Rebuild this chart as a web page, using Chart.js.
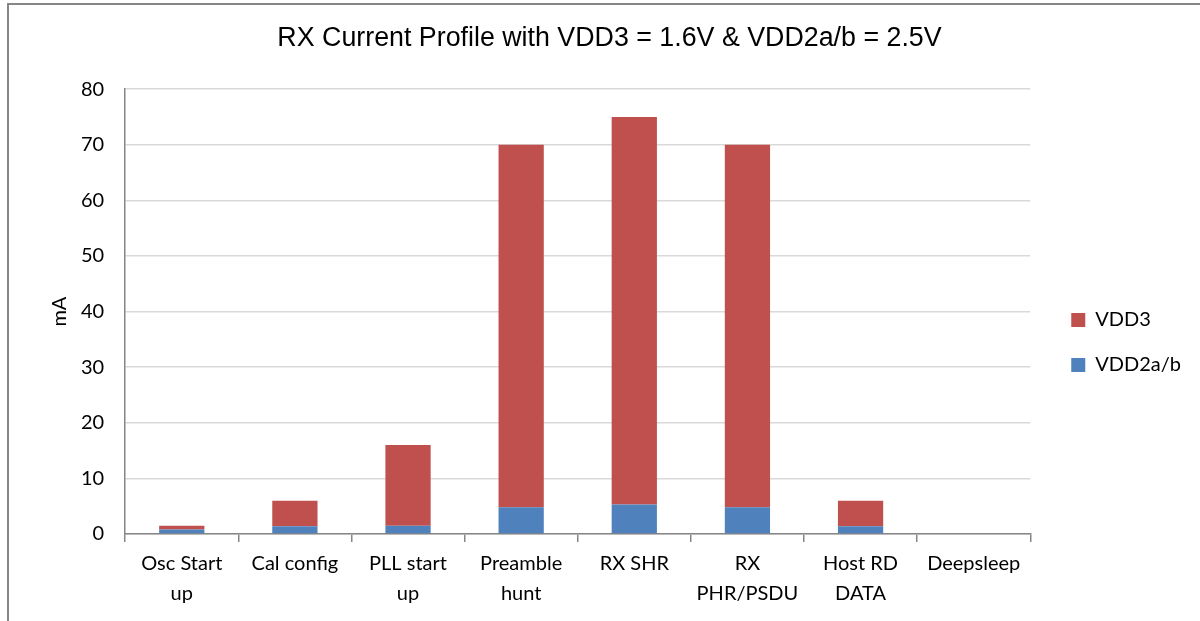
<!DOCTYPE html>
<html>
<head>
<meta charset="utf-8">
<script src="https://cdn.jsdelivr.net/npm/chart.js@4"></script>
<style>
  html, body { margin: 0; padding: 0; background: #fff; }
  #wrap { width: 1200px; height: 621px; }
</style>
</head>
<body>
<div id="wrap"><canvas id="rxChart" width="1200" height="621"></canvas></div>
<script>
// categorías (etiquetas en dos líneas como en el original)
const categories = [
  ["Osc Start", "up"],
  ["Cal config"],
  ["PLL start", "up"],
  ["Preamble", "hunt"],
  ["RX SHR"],
  ["RX", "PHR/PSDU"],
  ["Host RD", "DATA"],
  ["Deepsleep"]
];
const vdd2Values = [0.8, 1.4, 1.5, 4.8, 5.3, 4.8, 1.4, 0];
const vdd3Values = [0.7, 4.6, 14.5, 65.2, 69.7, 65.2, 4.6, 0];
const yTicks = [0, 10, 20, 30, 40, 50, 60, 70, 80];

// marco exterior gris
const outerFrame = {
  id: "outerFrame",
  beforeDraw(chart) {
    const c = chart.ctx;
    c.save();
    c.fillStyle = "#fff";
    c.fillRect(0, 0, chart.width, chart.height);
    c.strokeStyle = "#868686";
    c.lineWidth = 2;
    c.strokeRect(8, 4, 1300, 700);
    c.restore();
  }
};

// mueve un poco la leyenda (derecha y abajo), como en el original
const legendShift = {
  id: "legendShift",
  afterLayout(chart) {
    const lg = chart.legend;
    if (lg) {
      lg.left += 16;
      lg.right += 16;
      lg.top += 27;
      lg.bottom += 27;
    }
  }
};

const ctx = document.getElementById("rxChart").getContext("2d");
const rxChart = new Chart(ctx, {
  type: "bar",
  data: {
    labels: categories,
    datasets: [
      {
        label: "VDD2a/b",
        data: vdd2Values,
        backgroundColor: "#4F81BD",
        borderWidth: 0
      },
      {
        label: "VDD3",
        data: vdd3Values,
        backgroundColor: "#C0504D",
        borderWidth: 0
      }
    ]
  },
  plugins: [outerFrame, legendShift],
  options: {
    responsive: false,
    animation: false,
    layout: { padding: { left: 44, right: 25, top: 15, bottom: 5 } },
    datasets: { bar: { categoryPercentage: 1, barPercentage: 0.4 } },
    scales: {
      x: {
        stacked: true,
        grid: {
          offset: true,
          drawOnChartArea: false,
          color: "#868686",
          tickLength: 8,
          lineWidth: 1.5
        },
        border: { color: "#868686", width: 1.5 },
        ticks: {
          color: "#000",
          font: { family: "Lato", size: 20, lineHeight: 1.5 },
          maxRotation: 0,
          autoSkip: false,
          padding: 7
        }
      },
      y: {
        stacked: true,
        min: 0,
        max: 80,
        afterBuildTicks(axis) {
          axis.ticks = yTicks.map(v => ({ value: v }));
        },
        grid: { color: "#d9d9d9", lineWidth: 1.5, drawTicks: false },
        border: { color: "#868686", width: 1.5 },
        ticks: {
          color: "#000",
          font: { family: "Lato", size: 20 },
          padding: 21
        },
        title: {
          display: true,
          text: "mA",
          color: "#000",
          font: { family: "Lato", size: 20 },
          padding: { top: 4, bottom: -12 }
        }
      }
    },
    plugins: {
      title: {
        display: true,
        text: "RX Current Profile with VDD3 = 1.6V & VDD2a/b = 2.5V",
        color: "#000",
        font: { family: "Liberation Sans", size: 26.8, weight: "normal" },
        padding: { top: 8, bottom: 34 }
      },
      legend: {
        display: true,
        position: "right",
        reverse: true,
        labels: {
          color: "#000",
          font: { family: "Lato", size: 20 },
          boxWidth: 14,
          boxHeight: 14,
          padding: 25
        }
      },
      tooltip: { enabled: false }
    }
  }
});
</script>
</body>
</html>
